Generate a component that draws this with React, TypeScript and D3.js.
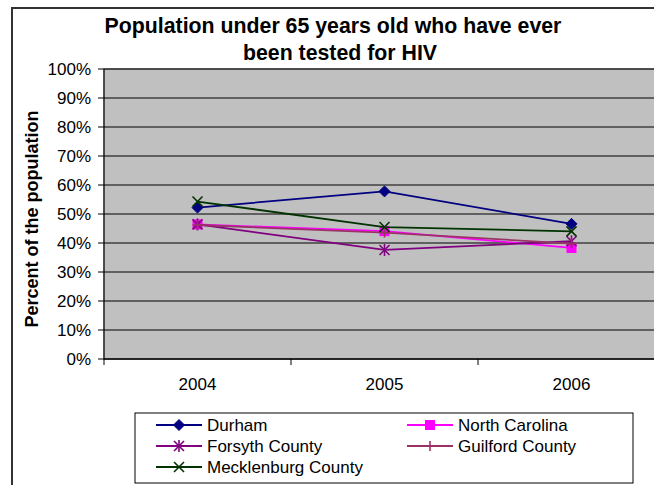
import React from "react";
import * as d3 from "d3";

// Survey years and series values (share of population, 0..1)
const years = ["2004", "2005", "2006"];
const durham = [0.522, 0.578, 0.466];
const northCarolina = [0.464, 0.441, 0.383];
const forsythCounty = [0.464, 0.376, 0.406];
const guilfordCounty = [0.462, 0.436, 0.398];
const mecklenburgCounty = [0.543, 0.455, 0.44];
const yTicks = [0, 0.1, 0.2, 0.3, 0.4, 0.5, 0.6, 0.7, 0.8, 0.9, 1.0];

type MarkerKind = "diamond" | "square" | "asterisk" | "plus" | "cross";

const series: { name: string; values: number[]; color: string; marker: MarkerKind }[] = [
  { name: "Durham", values: durham, color: "#000080", marker: "diamond" },
  { name: "North Carolina", values: northCarolina, color: "#FF00FF", marker: "square" },
  { name: "Forsyth County", values: forsythCounty, color: "#800080", marker: "asterisk" },
  { name: "Guilford County", values: guilfordCounty, color: "#993366", marker: "plus" },
  { name: "Mecklenburg County", values: mecklenburgCounty, color: "#003300", marker: "cross" },
];

const FONT = "'Liberation Sans', Arial, Helvetica, sans-serif";

function Marker({ kind, x, y, color }: { kind: MarkerKind; x: number; y: number; color: string }) {
  const r = 5;
  switch (kind) {
    case "diamond":
      return (
        <path
          d={`M${x},${y - r - 0.5}L${x + r + 0.5},${y}L${x},${y + r + 0.5}L${x - r - 0.5},${y}Z`}
          fill={color}
          stroke={color}
          strokeWidth={1}
        />
      );
    case "square":
      return <rect x={x - 4.5} y={y - 4.5} width={9} height={9} fill={color} stroke={color} strokeWidth={1} />;
    case "asterisk":
      return (
        <g stroke={color} strokeWidth={1.6}>
          <line x1={x - r} y1={y - r} x2={x + r} y2={y + r} />
          <line x1={x - r} y1={y + r} x2={x + r} y2={y - r} />
          <line x1={x} y1={y - r - 1} x2={x} y2={y + r + 1} />
        </g>
      );
    case "plus":
      return (
        <g stroke={color} strokeWidth={1.6}>
          <line x1={x} y1={y - r} x2={x} y2={y + r} />
          <line x1={x - r} y1={y} x2={x + r} y2={y} />
        </g>
      );
    case "cross":
      return (
        <g stroke={color} strokeWidth={1.6}>
          <line x1={x - r} y1={y - r} x2={x + r} y2={y + r} />
          <line x1={x - r} y1={y + r} x2={x + r} y2={y - r} />
        </g>
      );
  }
}

export default function App() {
  const width = 654;
  const height = 485;
  const plotLeft = 104;
  const plotRight = 665;
  const plotTop = 69;
  const plotBottom = 359;

  const x = d3.scaleBand<string>().domain(years).range([plotLeft, plotRight]).padding(0);
  const y = d3.scaleLinear().domain([0, 1]).range([plotBottom, plotTop]);
  const cx = (yr: string) => (x(yr) as number) + x.bandwidth() / 2;
  const fmt = d3.format(".0%");

  const line = d3
    .line<number>()
    .x((_, i) => cx(years[i]))
    .y((v) => y(v));

  const legendItems = [
    { s: series[0], lx: 156, ly: 425 },
    { s: series[1], lx: 407, ly: 425 },
    { s: series[2], lx: 156, ly: 446 },
    { s: series[3], lx: 407, ly: 446 },
    { s: series[4], lx: 156, ly: 467 },
  ];

  return (
    <svg
      width={width}
      height={height}
      style={{ position: "absolute", left: 0, top: 0, background: "#fff" }}
      fontFamily={FONT}
    >
      {/* chart frame */}
      <rect x={12} y={8} width={720} height={560} fill="#fff" stroke="#333" strokeWidth={2} />

      {/* title */}
      <text x={333} y={33} textAnchor="middle" fontSize={21.3} fontWeight="bold" fill="#000">
        Population under 65 years old who have ever
      </text>
      <text x={340} y={60} textAnchor="middle" fontSize={21.3} fontWeight="bold" fill="#000">
        been tested for HIV
      </text>

      {/* plot area */}
      <rect x={plotLeft} y={plotTop} width={plotRight - plotLeft} height={plotBottom - plotTop} fill="#C0C0C0" stroke="#808080" strokeWidth={1.5} />

      {/* gridlines */}
      {yTicks.slice(1).map((t) => (
        <line key={t} x1={plotLeft} x2={plotRight} y1={y(t)} y2={y(t)} stroke="#000" strokeWidth={1} />
      ))}

      {/* y axis */}
      <line x1={plotLeft} x2={plotLeft} y1={plotTop} y2={plotBottom} stroke="#000" strokeWidth={1} />
      {yTicks.map((t) => (
        <g key={t}>
          <line x1={plotLeft - 6} x2={plotLeft} y1={y(t)} y2={y(t)} stroke="#000" />
          <text x={91} y={y(t) + 6} textAnchor="end" fontSize={17} fill="#000">
            {fmt(t)}
          </text>
        </g>
      ))}

      {/* x axis */}
      <line x1={plotLeft} x2={plotRight} y1={plotBottom} y2={plotBottom} stroke="#000" strokeWidth={1.5} />
      {years.map((yr) => (
        <g key={yr}>
          <line
            x1={x(yr) as number}
            x2={x(yr) as number}
            y1={plotBottom}
            y2={plotBottom + 6}
            stroke="#000"
          />
          <text x={cx(yr)} y={390} textAnchor="middle" fontSize={17} fill="#000">
            {yr}
          </text>
        </g>
      ))}

      {/* y axis title */}
      <text
        transform={`translate(38,219) rotate(-90)`}
        textAnchor="middle"
        fontSize={18}
        fontWeight="bold"
        fill="#000"
      >
        Percent of the population
      </text>

      {/* series */}
      {series.map((s) => (
        <g key={s.name}>
          <path d={line(s.values) || ""} fill="none" stroke={s.color} strokeWidth={1.8} />
          {s.values.map((v, i) => (
            <Marker key={i} kind={s.marker} x={cx(years[i])} y={y(v)} color={s.color} />
          ))}
        </g>
      ))}

      {/* legend */}
      <rect x={135} y={413} width={498} height={70} fill="#fff" stroke="#000" strokeWidth={1} />
      {legendItems.map(({ s, lx, ly }) => (
        <g key={s.name}>
          <line x1={lx} x2={lx + 46} y1={ly} y2={ly} stroke={s.color} strokeWidth={1.8} />
          <Marker kind={s.marker} x={lx + 23} y={ly} color={s.color} />
          <text x={lx + 51} y={ly + 6} fontSize={17} fill="#000">
            {s.name}
          </text>
        </g>
      ))}
    </svg>
  );
}
